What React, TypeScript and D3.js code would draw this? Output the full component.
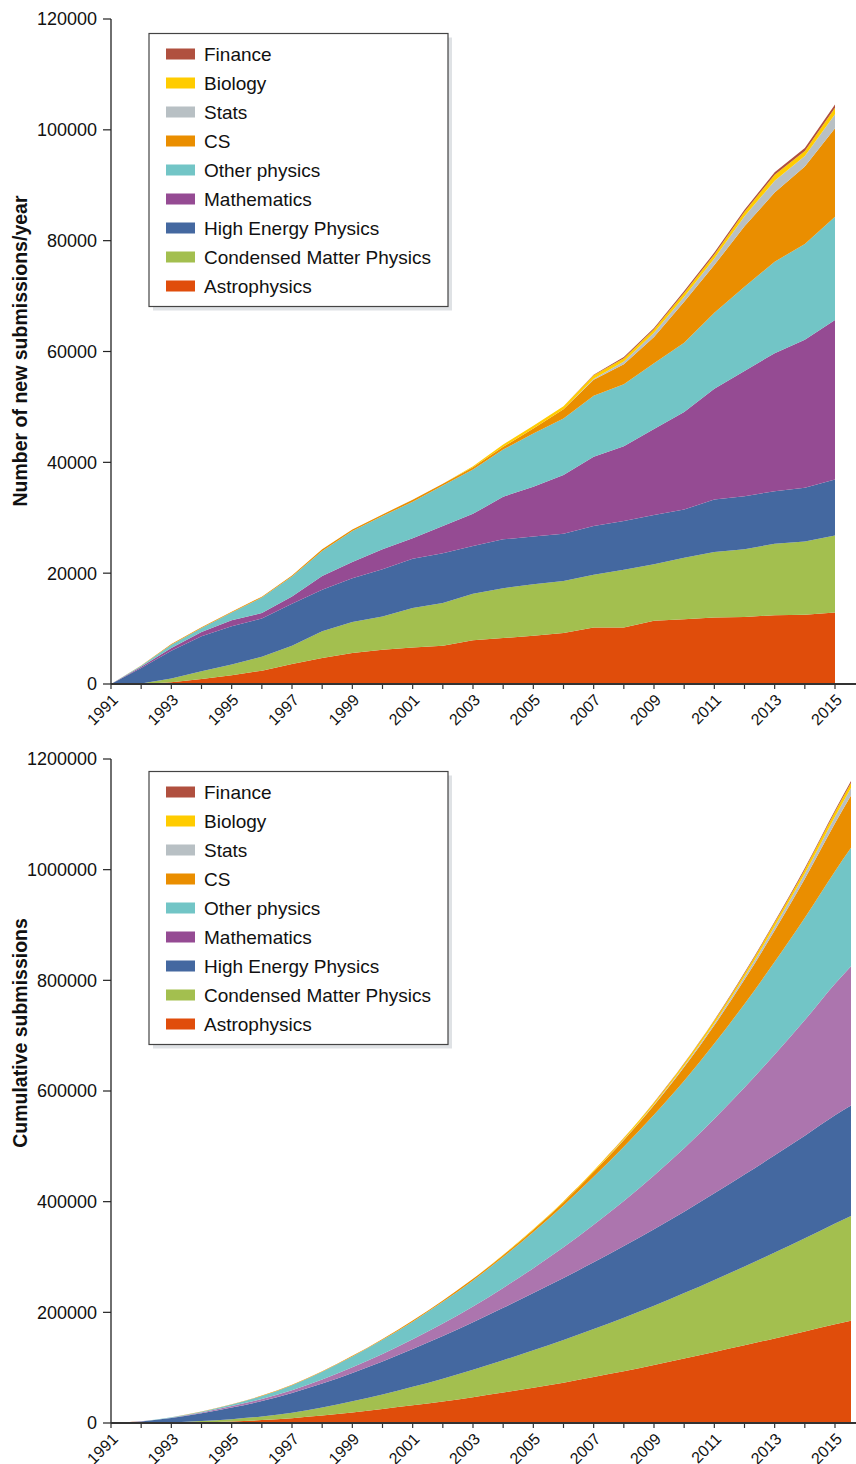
import React from 'react';
import * as d3 from 'd3';

// arXiv new submissions per year, by subject area
const years = [1991, 1992, 1993, 1994, 1995, 1996, 1997, 1998, 1999, 2000, 2001, 2002, 2003,
  2004, 2005, 2006, 2007, 2008, 2009, 2010, 2011, 2012, 2013, 2014, 2015];

const astrophysics = [0, 0, 300, 900, 1600, 2400, 3600, 4700, 5600, 6200, 6600, 6900, 7900,
  8300, 8700, 9200, 10200, 10200, 11400, 11700, 12000, 12100, 12400, 12500, 12900];
const condensedMatter = [0, 100, 700, 1400, 1900, 2500, 3300, 4800, 5600, 6000, 7100, 7700, 8400,
  9000, 9300, 9400, 9500, 10400, 10200, 11100, 11800, 12200, 12900, 13200, 13900];
const highEnergy = [0, 2800, 5000, 6300, 6900, 6900, 7600, 7500, 7900, 8500, 8900, 9000, 8600,
  8800, 8600, 8500, 8800, 8800, 8900, 8700, 9500, 9600, 9500, 9700, 10100];
const mathematics = [0, 200, 500, 800, 1100, 1000, 1300, 2500, 2900, 3600, 3700, 4900, 5800,
  7700, 9000, 10600, 12500, 13500, 15500, 17600, 20000, 22600, 24900, 26700, 28800];
const otherPhysics = [0, 200, 600, 700, 1400, 2800, 3600, 4500, 5600, 6000, 6600, 7300, 8000,
  8500, 9600, 10200, 11000, 11200, 11900, 12500, 13700, 15200, 16500, 17300, 18600];
const cs = [0, 50, 100, 150, 150, 150, 200, 300, 300, 300, 350, 350, 400,
  500, 900, 1700, 2900, 3600, 4700, 7400, 8600, 10900, 12500, 14000, 16000];
const stats = [0, 0, 0, 0, 0, 0, 0, 0, 0, 0, 0, 0, 0,
  0, 0, 0, 200, 500, 800, 900, 1200, 1800, 2100, 1900, 2500];
const biology = [0, 0, 0, 0, 0, 0, 0, 0, 0, 0, 0, 0, 200,
  400, 500, 500, 600, 600, 600, 700, 700, 800, 1100, 900, 1200];
const finance = [0, 0, 0, 0, 0, 0, 0, 0, 0, 0, 0, 0, 0,
  0, 0, 0, 100, 200, 250, 300, 350, 400, 450, 500, 550];

// the cumulative panel runs on past the 2015 tick (part of 2016)
const cumEndYear = 2015.53;
const partial2016 = [6600, 6700, 4500, 14000, 10400, 8200, 1300, 600, 300];

const keys = ['astrophysics', 'condensedMatter', 'highEnergy', 'mathematics', 'otherPhysics',
  'cs', 'stats', 'biology', 'finance'];
const labels = ['Astrophysics', 'Condensed Matter Physics', 'High Energy Physics', 'Mathematics',
  'Other physics', 'CS', 'Stats', 'Biology', 'Finance'];
const colors = ['#e04d0b', '#a3bf4f', '#4468a0', '#954b93', '#72c5c6', '#ea8e00', '#b8c0c4', '#ffcc00', '#b0503f'];
const cumColors = ['#e04d0b', '#a3bf4f', '#4468a0', '#ac75ae', '#72c5c6', '#ea8e00', '#b8c0c4', '#ffcc00', '#b0503f'];

const topTicks = [0, 20000, 40000, 60000, 80000, 100000, 120000];
const bottomTicks = [0, 200000, 400000, 600000, 800000, 1000000, 1200000];

const series = [astrophysics, condensedMatter, highEnergy, mathematics, otherPhysics, cs, stats, biology, finance];

const annualRows = years.map((year, i) => {
  const row: any = { year };
  keys.forEach((k, j) => { row[k] = series[j][i]; });
  return row;
});

const cumSeries = series.map((s) => Array.from(d3.cumsum(s)));
const cumRows = years.map((year, i) => {
  const row: any = { year };
  keys.forEach((k, j) => { row[k] = cumSeries[j][i]; });
  return row;
});
const lastRow: any = { year: cumEndYear };
keys.forEach((k, j) => { lastRow[k] = cumSeries[j][years.length - 1] + partial2016[j]; });
cumRows.push(lastRow);

const FONT = '"Liberation Sans", Arial, Helvetica, sans-serif';
const W = 856;
const H = 1464;
const x = d3.scaleLinear().domain([1991, 2015]).range([111, 835]);

interface PanelProps {
  rows: any[];
  yTop: number;
  yBottom: number;
  max: number;
  ticks: number[];
  fills: string[];
  curve: d3.CurveFactory;
  title: string;
  titleY: number;
  legendTop: number;
}

const Panel: React.FC<PanelProps> = ({ rows, yTop, yBottom, max, ticks, fills, curve, title, titleY, legendTop }) => {
  const y = d3.scaleLinear().domain([0, max]).range([yBottom, yTop]);
  const stacked = d3.stack<any>().keys(keys)(rows);
  const area = d3.area<any>()
    .x((d) => x(d.data.year))
    .y0((d) => y(d[0]))
    .y1((d) => y(d[1]))
    .curve(curve);

  const legendOrder = [...keys.keys()].reverse();

  return (
    <g>
      {stacked.map((layer, i) => (
        <path key={layer.key} d={area(layer) || ''} fill={fills[i]} />
      ))}

      {/* y axis */}
      <line x1={111} x2={111} y1={yTop} y2={yBottom} stroke="#222" strokeWidth={1.3} />
      {ticks.map((t) => (
        <g key={t}>
          <line x1={103} x2={111} y1={y(t)} y2={y(t)} stroke="#222" strokeWidth={1.2} />
          <text x={97} y={y(t)} dy="0.36em" textAnchor="end" fontSize={18} fill="#111">{t}</text>
        </g>
      ))}

      {/* x axis */}
      <line x1={111} x2={W} y1={yBottom} y2={yBottom} stroke="#333" strokeWidth={1.8} />
      {years.map((yr) => (
        <line key={yr} x1={x(yr)} x2={x(yr)} y1={yBottom} y2={yBottom + 5} stroke="#333" strokeWidth={1.2} />
      ))}
      {years.filter((yr) => (yr - 1991) % 2 === 0).map((yr) => (
        <text
          key={yr}
          transform={`translate(${x(yr) + 4},${yBottom + 13}) rotate(-45)`}
          dy="0.35em"
          textAnchor="end"
          fontSize={16}
          fill="#111"
        >
          {yr}
        </text>
      ))}

      <text
        transform={`translate(20,${titleY}) rotate(-90)`}
        textAnchor="middle"
        dy="0.35em"
        fontSize={19.5}
        fontWeight="bold"
        fill="#111"
      >
        {title}
      </text>

      {/* legend */}
      <rect x={153} y={legendTop + 4} width={299} height={273} fill="#dfe2e5" />
      <rect x={149} y={legendTop} width={299} height={273} fill="#fff" stroke="#444" strokeWidth={1.2} />
      {legendOrder.map((j, row) => {
        const cy = legendTop + 20.5 + row * 29;
        return (
          <g key={keys[j]}>
            <rect x={166} y={cy - 5.5} width={29} height={11} fill={colors[j]} />
            <text x={204} y={cy} dy="0.36em" fontSize={19} fill="#111">{labels[j]}</text>
          </g>
        );
      })}
    </g>
  );
};

const App: React.FC = () => (
  <div style={{ position: 'absolute', left: 0, top: 0 }}>
    <svg width={W} height={H} style={{ display: 'block', fontFamily: FONT }}>
      <rect width={W} height={H} fill="#fff" />
      <Panel
        rows={annualRows}
        yTop={19}
        yBottom={684}
        max={120000}
        ticks={topTicks}
        fills={colors}
        curve={d3.curveLinear}
        title="Number of new submissions/year"
        titleY={351}
        legendTop={33.5}
      />
      <Panel
        rows={cumRows}
        yTop={759}
        yBottom={1423}
        max={1200000}
        ticks={bottomTicks}
        fills={cumColors}
        curve={d3.curveMonotoneX}
        title="Cumulative submissions"
        titleY={1033}
        legendTop={771.5}
      />
    </svg>
  </div>
);

export default App;
